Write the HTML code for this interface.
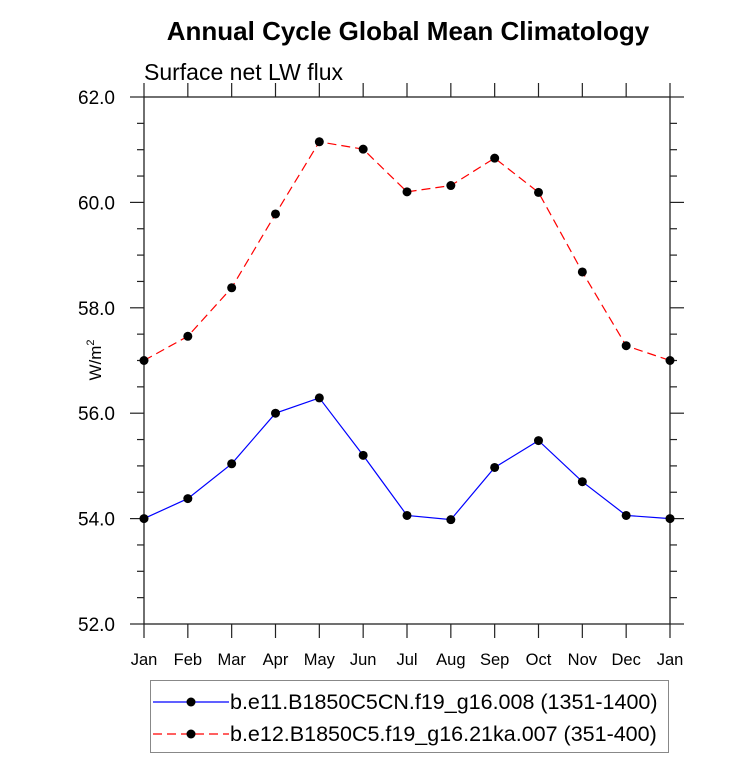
<!DOCTYPE html>
<html><head><meta charset="utf-8"><style>
body{margin:0;background:#fff;}
svg text{font-family:"Liberation Sans",sans-serif;}
</style></head><body>
<svg width="733" height="761" viewBox="0 0 733 761">
<text x="408" y="40" text-anchor="middle" font-size="26" font-weight="bold">Annual Cycle Global Mean Climatology</text>
<text x="144" y="80" font-size="23">Surface net LW flux</text>
<text transform="translate(101,360) rotate(-90)" text-anchor="middle" font-size="17">W/m<tspan font-size="11" dy="-7">2</tspan></text>
<g id="axes"></g>
<g id="series"></g>
<rect x="150.5" y="680.5" width="518" height="72" fill="none" stroke="#888" stroke-width="1"/>
<g id="legend"></g>
</svg>
<script>
const months=["Jan","Feb","Mar","Apr","May","Jun","Jul","Aug","Sep","Oct","Nov","Dec","Jan"];
const blueVals=[54.0,54.38,55.04,56.0,56.29,55.2,54.06,53.98,54.97,55.48,54.70,54.06,54.0];
const redVals=[57.0,57.46,58.38,59.78,61.15,61.01,60.2,60.32,60.84,60.19,58.68,57.28,57.0];
const yTicks=["52.0","54.0","56.0","58.0","60.0","62.0"];
const legendLabels=["b.e11.B1850C5CN.f19_g16.008 (1351-1400)","b.e12.B1850C5.f19_g16.21ka.007 (351-400)"];
const NS="http://www.w3.org/2000/svg";
const X0=144,X1=670,Y0=624,Y1=97,YMIN=52,YMAX=62;
const xs=i=>X0+(X1-X0)*i/(months.length-1);
const ys=v=>Y0-(v-YMIN)/(YMAX-YMIN)*(Y0-Y1);
function mk(tag,attrs,parent){const e=document.createElementNS(NS,tag);for(const k in attrs)e.setAttribute(k,attrs[k]);parent.appendChild(e);return e;}
const ax=document.getElementById('axes');
const frame=mk('rect',{x:X0,y:Y1,width:X1-X0,height:Y0-Y1,fill:'none',stroke:'#222','stroke-width':1.3},ax);


for(let v=YMIN;v<=YMAX+1e-9;v+=0.5){
  const y=ys(v);const major=Math.abs(v-Math.round(v/2)*2)<1e-9;const L=major?14:7;
  mk('line',{x1:X0,x2:X0-L,y1:y,y2:y,stroke:'#222','stroke-width':1.2},ax);
  mk('line',{x1:X1,x2:X1+L,y1:y,y2:y,stroke:'#222','stroke-width':1.2},ax);
}
yTicks.forEach(t=>{
  const tx=mk('text',{x:115,y:ys(parseFloat(t))+7,'text-anchor':'end','font-size':19},ax);
  tx.textContent=t;
  
  
});
months.forEach((m,i)=>{
  const x=xs(i);
  mk('line',{x1:x,x2:x,y1:Y0,y2:Y0+14,stroke:'#222','stroke-width':1.2},ax);
  mk('line',{x1:x,x2:x,y1:Y1,y2:Y1-14,stroke:'#222','stroke-width':1.2},ax);
  const tx=mk('text',{x:x,y:Y0+41,'text-anchor':'middle','font-size':16.5},ax);
  tx.textContent=m;
  
  
});
const sg=document.getElementById('series');
function series(vals,color,dash,name){
  const pl=mk('polyline',{points:vals.map((v,i)=>xs(i)+','+ys(v)).join(' '),fill:'none',stroke:color,'stroke-width':1.2,'stroke-dasharray':dash},sg);
  
  
  vals.forEach((v,i)=>{
    const c=mk('circle',{cx:xs(i),cy:ys(v),r:4.5,fill:'#000'},sg);
    
    
  });
}
series(blueVals,'#0000ff','none','blue-series');
series(redVals,'#ff0000','9,5','red-series');
const lg=document.getElementById('legend');
[['#0000ff','none',702],['#ff0000','9,5',734]].forEach((s,k)=>{
  const g=mk('g',{},lg);
  
  
  mk('line',{x1:153,x2:229,y1:s[2],y2:s[2],stroke:s[0],'stroke-width':1.2,'stroke-dasharray':s[1]},g);
  mk('circle',{cx:191,cy:s[2],r:4.5,fill:'#000'},g);
  const t=mk('text',{x:230,y:s[2]+7,'font-size':21.5},g);
  t.textContent=legendLabels[k];
});
</script>
</body></html>
